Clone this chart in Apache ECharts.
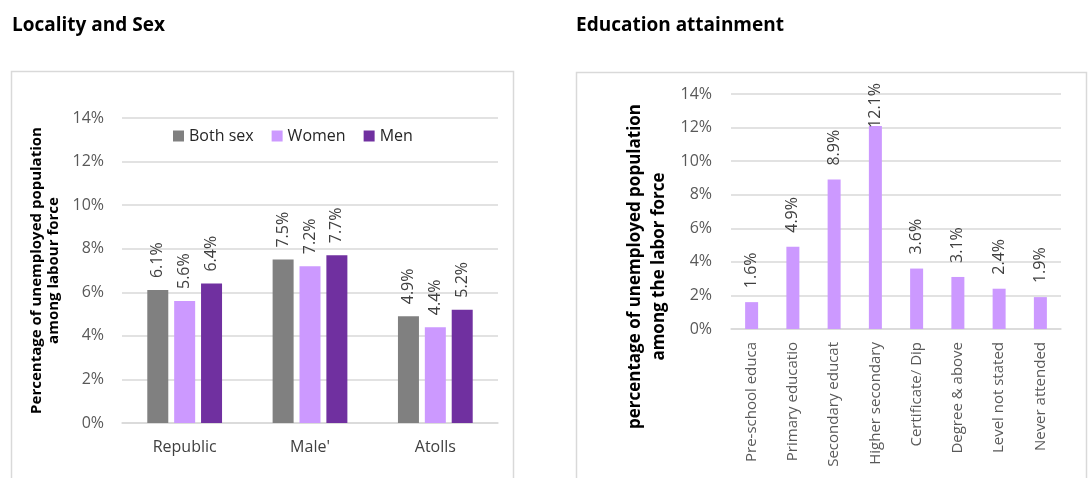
<!DOCTYPE html>
<html>
<head>
<meta charset="utf-8">
<script src="https://cdn.jsdelivr.net/npm/echarts@6/dist/echarts.min.js"></script>
<style>
  html, body { margin: 0; padding: 0; background: #fff; }
  #main { width: 1092px; height: 478px; }
</style>
</head>
<body>
<div id="main"></div>
<script>
  // left chart: locality and sex
  const localities = ["Republic", "Male'", "Atolls"];
  const bothSex = [6.1, 7.5, 4.9];
  const women = [5.6, 7.2, 4.4];
  const men = [6.4, 7.7, 5.2];

  // right chart: education attainment
  const eduLevels = ["Pre-school educa", "Primary educatio", "Secondary educat", "Higher secondary",
    "Certificate/ Dip", "Degree & above", "Level not stated", "Never attended"];
  const eduValues = [1.6, 4.9, 8.9, 12.1, 3.6, 3.1, 2.4, 1.9];

  const font = "'Open Sans', sans-serif";
  const grey = "#808080";
  const lilac = "#CC99FF";
  const purple = "#7030A0";
  const gridColor = "#D9D9D9";

  const myChart = echarts.init(document.getElementById("main"));

  const valueLabel = {
    show: true,
    position: "top",
    rotate: 90,
    align: "left",
    verticalAlign: "middle",
    distance: 12,
    color: "#404040",
    fontFamily: font,
    fontSize: 16,
    formatter: p => p.value.toFixed(1) + "%"
  };

  const yAxisBase = {
    type: "value",
    min: 0,
    max: 14,
    interval: 2,
    axisLine: { show: false },
    axisTick: { show: false },
    splitLine: { lineStyle: { color: gridColor, width: 1.5 } },
    axisLabel: { formatter: "{value}%", color: "#595959", fontFamily: font, fontSize: 16 },
    nameLocation: "middle",
    nameRotate: 90,
    nameGap: 60,
    nameTextStyle: { fontFamily: font, fontWeight: "bold", color: "#000", lineHeight: 18 }
  };

  // the tallest label is pushed down so it stays inside the frame, as Excel does
  const eduData = eduValues.map(v => v > 11 ? { value: v, label: { distance: -2 } } : v);

  const option = {
    animation: false,
    backgroundColor: "#fff",
    title: [
      { text: "Locality and Sex", left: 12, top: 16, padding: 0,
        textStyle: { fontFamily: font, fontWeight: "bold", fontSize: 19, color: "#000" } },
      { text: "Education attainment", left: 576, top: 16, padding: 0,
        textStyle: { fontFamily: font, fontWeight: "bold", fontSize: 19, color: "#000" } }
    ],
    graphic: [
      { type: "rect", shape: { x: 11.5, y: 71.5, width: 502, height: 420 },
        style: { fill: null, stroke: gridColor, lineWidth: 1.5 }, silent: true },
      { type: "rect", shape: { x: 576.5, y: 72.5, width: 510, height: 420 },
        style: { fill: null, stroke: gridColor, lineWidth: 1.5 }, silent: true }
    ],
    legend: {
      left: 173,
      top: 128,
      padding: 0,
      itemWidth: 11,
      itemHeight: 11,
      itemGap: 18,
      icon: "rect",
      textStyle: { fontFamily: font, fontSize: 16, color: "#262626" },
      data: ["Both sex", "Women", "Men"]
    },
    grid: [
      { left: 122, right: 594, top: 118, bottom: 55, outerBoundsMode: "none" },
      { left: 731, right: 31, top: 94, bottom: 149, outerBoundsMode: "none" }
    ],
    xAxis: [
      {
        type: "category",
        gridIndex: 0,
        data: localities,
        axisLine: { lineStyle: { color: gridColor, width: 1.5 } },
        axisTick: { show: false },
        axisLabel: { color: "#404040", fontFamily: font, fontSize: 16, margin: 16 }
      },
      {
        type: "category",
        gridIndex: 1,
        data: eduLevels,
        axisLine: { lineStyle: { color: gridColor, width: 1.5 } },
        axisTick: { show: false },
        axisLabel: { color: "#595959", fontFamily: font, fontSize: 15, rotate: 90, interval: 0, margin: 13 }
      }
    ],
    yAxis: [
      Object.assign({}, yAxisBase, {
        gridIndex: 0,
        name: "Percentage of unemployed population\namong labour force",
        nameGap: 60,
        axisLabel: Object.assign({}, yAxisBase.axisLabel, { margin: 18 }),
        nameTextStyle: Object.assign({}, yAxisBase.nameTextStyle, { fontSize: 15, lineHeight: 17 })
      }),
      Object.assign({}, yAxisBase, {
        gridIndex: 1,
        name: "percentage of unemployed population\namong the labor force",
        nameGap: 60,
        axisLabel: Object.assign({}, yAxisBase.axisLabel, { margin: 19, fontSize: 16 }),
        nameTextStyle: Object.assign({}, yAxisBase.nameTextStyle,
          { fontSize: 17, lineHeight: 24, padding: [0, 110, 0, 0] })
      })
    ],
    series: [
      { name: "Both sex", type: "bar", xAxisIndex: 0, yAxisIndex: 0, data: bothSex,
        barWidth: 21, barGap: "28%", itemStyle: { color: grey }, label: valueLabel },
      { name: "Women", type: "bar", xAxisIndex: 0, yAxisIndex: 0, data: women,
        barWidth: 21, barGap: "28%", itemStyle: { color: lilac }, label: valueLabel },
      { name: "Men", type: "bar", xAxisIndex: 0, yAxisIndex: 0, data: men,
        barWidth: 21, barGap: "28%", itemStyle: { color: purple }, label: valueLabel },
      { name: "Education", type: "bar", xAxisIndex: 1, yAxisIndex: 1, data: eduData,
        barWidth: 13, itemStyle: { color: lilac },
        label: Object.assign({}, valueLabel, { distance: 14 }) }
    ]
  };

  myChart.setOption(option);
</script>
</body>
</html>
